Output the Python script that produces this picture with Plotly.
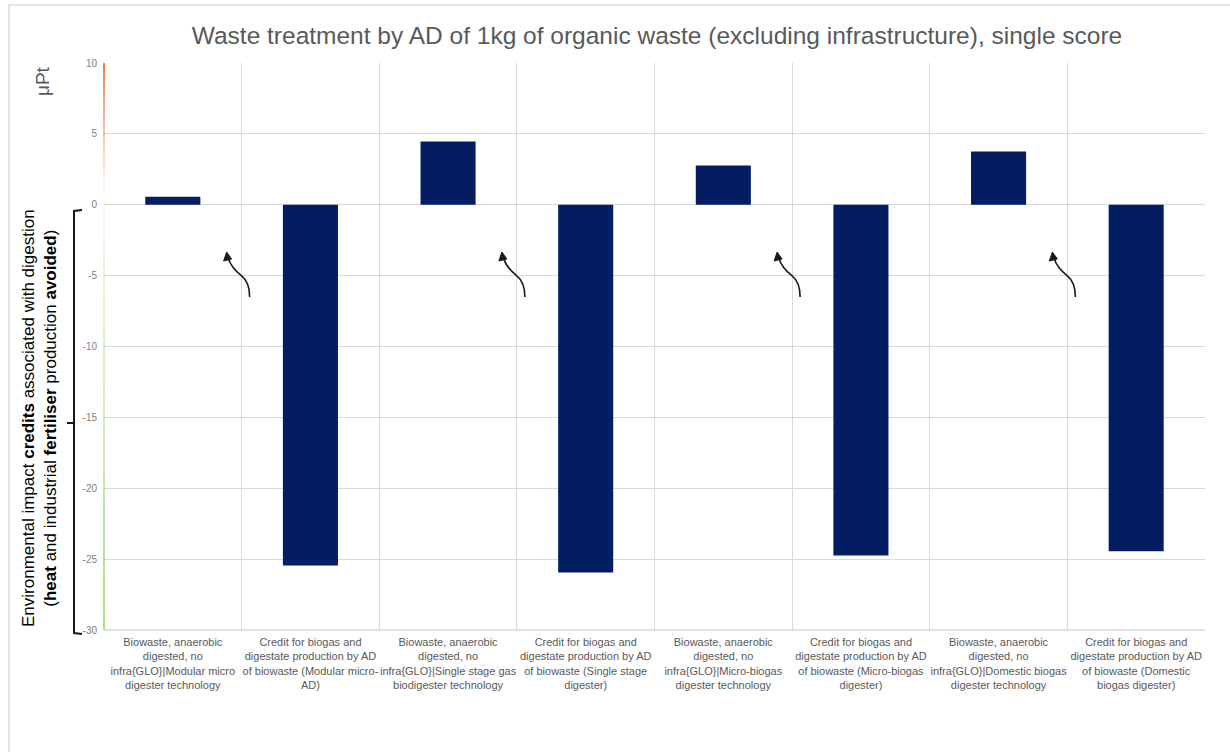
import plotly.graph_objects as go

categories = [
    "Biowaste, anaerobic<br>digested, no<br>infra{GLO}|Modular micro<br>digester technology",
    "Credit for biogas and<br>digestate production by AD<br>of biowaste (Modular micro-<br>AD)",
    "Biowaste, anaerobic<br>digested, no<br>infra{GLO}|Single stage gas<br>biodigester technology",
    "Credit for biogas and<br>digestate production by AD<br>of biowaste (Single stage<br>digester)",
    "Biowaste, anaerobic<br>digested, no<br>infra{GLO}|Micro-biogas<br>digester technology",
    "Credit for biogas and<br>digestate production by AD<br>of biowaste (Micro-biogas<br>digester)",
    "Biowaste, anaerobic<br>digested, no<br>infra{GLO}|Domestic biogas<br>digester technology",
    "Credit for biogas and<br>digestate production by AD<br>of biowaste (Domestic<br>biogas digester)",
]
values = [0.57, -25.45, 4.47, -25.95, 2.77, -24.75, 3.76, -24.45]
y_ticks = [10, 5, 0, -5, -10, -15, -20, -25, -30]

W, H = 1230, 752
ML, MR, MT, MB = 104, 25, 63, 122
PW = W - ML - MR
PH = H - MT - MB


def px(x):
    return (x - ML) / PW


def py(y):
    return (H - MB - y) / PH


fig = go.Figure()
fig.add_trace(go.Bar(
    x=categories,
    y=values,
    marker=dict(color="#041D62", line=dict(width=0)),
    hoverinfo="skip",
))

shapes = []
# outer frame
shapes.append(dict(type="rect", xref="paper", yref="paper",
                   x0=px(9), x1=px(1240), y0=py(5), y1=py(770),
                   line=dict(color="#D9D9D9", width=1.5), layer="below"))

# bottom axis line
shapes.append(dict(type="line", xref="paper", yref="paper", x0=0, x1=1, y0=0, y1=0,
                   line=dict(color="#D9D9D9", width=1.5), layer="below"))

# gradient left axis line
nseg = 24
for i in range(nseg):
    y0 = 10 - 10 * i / nseg
    y1 = 10 - 10 * (i + 1) / nseg
    op = max(0.0, 1 - (i + 0.5) / nseg) ** 1.2
    shapes.append(dict(type="line", xref="paper", yref="y", x0=0, x1=0,
                       y0=y0, y1=y1, line=dict(color=f"rgba(244,120,60,{op:.3f})", width=2)))
for i in range(nseg):
    y0 = 0 - 30 * i / nseg
    y1 = 0 - 30 * (i + 1) / nseg
    op = 0.12 + 0.6 * ((i + 0.5) / nseg)
    shapes.append(dict(type="line", xref="paper", yref="y", x0=0, x1=0,
                       y0=y0, y1=y1, line=dict(color=f"rgba(146,208,80,{op:.3f})", width=2)))

# bracket
bx, bx2, bmid = 74, 82, 67
shapes.append(dict(type="path", xref="paper", yref="paper",
                   path=f"M {px(bx2)},{py(210)} L {px(bx)},{py(211)} L {px(bx)},{py(633)} L {px(bx2)},{py(634)}",
                   line=dict(color="#1a1a1a", width=2)))
shapes.append(dict(type="line", xref="paper", yref="paper",
                   x0=px(bmid), x1=px(bx), y0=py(423), y1=py(423),
                   line=dict(color="#1a1a1a", width=2)))

# curved arrows near each pair boundary
cat_w = PW / len(categories)
for k in range(4):
    B = ML + cat_w * (2 * k + 1)
    def P(dx, y):
        return f"{px(B + dx):.5f},{py(y):.5f}"
    path = (f"M {P(8,297)} C {P(8,286)} {P(5,280)} {P(0,276)} "
            f"C {P(-6,271)} {P(-11,266)} {P(-13,259)}")
    shapes.append(dict(type="path", xref="paper", yref="paper", path=path,
                       line=dict(color="#1a1a1a", width=1.6)))
    head = f"M {P(-15,252)} L {P(-18,261)} L {P(-10,259)} Z"
    shapes.append(dict(type="path", xref="paper", yref="paper", path=head,
                       fillcolor="#1a1a1a", line=dict(color="#1a1a1a", width=1)))

annotations = [
    dict(text="Environmental impact <b>credits</b> associated with digestion<br>"
              "(<b>heat</b> and industrial <b>fertiliser</b> production <b>avoided</b>)",
         xref="paper", yref="paper", x=px(39), y=py(418), textangle=-90,
         showarrow=False, font=dict(family="Liberation Sans", size=17, color="#000000"),
         align="center", xanchor="center", yanchor="middle"),
    dict(text="μPt", xref="paper", yref="paper", x=px(42), y=py(81), textangle=-90,
         showarrow=False, font=dict(family="Liberation Sans", size=19, color="#595959"),
         xanchor="center", yanchor="middle"),
]

fig.update_layout(
    width=W, height=H,
    margin=dict(l=ML, r=MR, t=MT, b=MB),
    paper_bgcolor="white", plot_bgcolor="white",
    showlegend=False,
    bargap=0.6,
    title=dict(text="Waste treatment by AD of 1kg of organic waste (excluding infrastructure), single score",
               x=657 / W, xanchor="center", y=1 - 35 / H, yanchor="middle",
               font=dict(family="Liberation Sans", size=24.5, color="#595959")),
    xaxis=dict(
        type="category",
        range=[-0.5, len(categories) - 0.5],
        tickson="boundaries", showgrid=True, gridcolor="#D9D9D9", gridwidth=1,
        ticks="", showline=False, zeroline=False,
        tickfont=dict(family="Liberation Sans", size=11, color="#595959"),
        tickangle=0, ticklabelstandoff=4,
    ),
    yaxis=dict(
        range=[-30, 10], tickvals=y_ticks, ticktext=[str(v) for v in y_ticks],
        showgrid=True, gridcolor="#D9D9D9", gridwidth=1,
        zeroline=True, zerolinecolor="#D9D9D9", zerolinewidth=1,
        showline=False, ticks="", ticklabelstandoff=6,
        tickfont=dict(family="Liberation Sans", size=10, color="#808080"),
    ),
    shapes=shapes,
    annotations=annotations,
)

fig.write_html("out.html")
